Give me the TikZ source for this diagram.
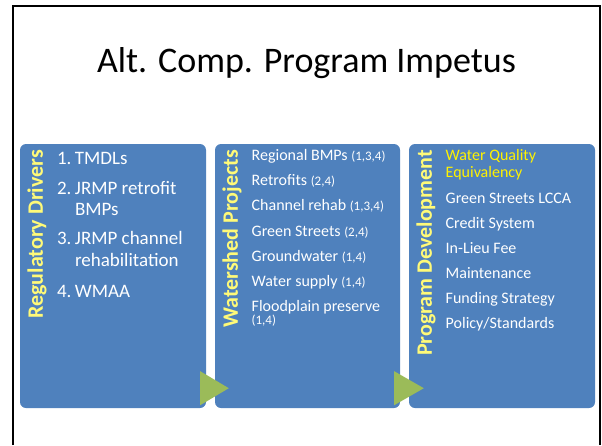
\documentclass[tikz,border=0pt]{standalone}
\usepackage{fontspec}
\setmainfont{Carlito}
\usepackage{tikz}
\usetikzlibrary{calc}

\definecolor{panelblue}{RGB}{79,129,189}
\definecolor{arrowgreen}{RGB}{155,187,89}
\definecolor{headyellow}{RGB}{255,250,120}

\tikzset{
  panel/.style={fill=panelblue, rounded corners=6pt, minimum width=186pt, minimum height=264pt, inner sep=0pt},
  panelhead/.style={rotate=90, anchor=base east, inner sep=0pt, text=headyellow, font=\fontsize{22}{26}\selectfont\bfseries},
  item/.style={anchor=base west, inner sep=0pt, text=white, font=\fontsize{16}{19}\selectfont},
  bigitem/.style={item, font=\fontsize{19}{22}\selectfont},
}
\newcommand{\refnums}[1]{{\fontsize{13}{15}\selectfont #1}}

\begin{document}
\begin{tikzpicture}[x=1pt, y=-1pt]
    \useasboundingbox (0,0) rectangle (602,445);
    % slide frame
    \draw[line width=2pt] (13,445) -- (13,6) -- (600,6) -- (600,445);
    \node (title) [anchor=base, font=\fontsize{36}{42}\selectfont] at (306.5,72) {Alt. Comp. Program Impetus};

    \node (drivers) [panel] at (113,276) {};
    \node (projects) [panel, minimum width=185pt] at (307.5,276) {};
    \node (progdev) [panel] at (502,276) {};

    \fill[arrowgreen] ($(drivers.south east)+(-6,-37)$) -- ($(drivers.south east)+(-6,-3)$) -- ($(projects.south west)+(14,-20)$) -- cycle;
    \fill[arrowgreen] ($(projects.south east)+(-6,-37)$) -- ($(projects.south east)+(-6,-3)$) -- ($(progdev.south west)+(15,-20)$) -- cycle;

    \node (drivershead) [panelhead] at ($(drivers.north west)+(23,6)$) {Regulatory Drivers};
    \node (projectshead) [panelhead] at ($(projects.north west)+(23,6)$) {Watershed Projects};
    \node (progdevhead) [panelhead] at ($(progdev.north west)+(23,6)$) {Program Development};

    \foreach \num/\txt/\dy [count=\i] in {1./TMDLs/21, 2./JRMP retrofit/51, /BMPs/72, 3./JRMP channel/101, /rehabilitation/123, 4./WMAA/154}
      \node (drv\i) [bigitem] at ($(drivers.north west)+(37,\dy)$) {\makebox[18pt][l]{\num}\txt};

    \foreach \txt [count=\i] in {{Regional BMPs \refnums{(1,3,4)}}, {Retrofits \refnums{(2,4)}}, {Channel rehab \refnums{(1,3,4)}}, {Green Streets \refnums{(2,4)}}, {Groundwater \refnums{(1,4)}}, {Water supply \refnums{(1,4)}}, {Floodplain preserve}}
      \node (prj\i) [item] at ($(projects.north west)+(36.7,{16.7+25.2*(\i-1)})$) {\txt};
    \node (prj8) [item] at ($(projects.north west)+(36.7,181)$) {\refnums{(1,4)}};

    \node (wq1) [item, text=yellow] at ($(progdev.north west)+(36.7,16.7)$) {Water Quality};
    \node (wq2) [item, text=yellow] at ($(progdev.north west)+(36.7,34)$) {Equivalency};
    \foreach \txt [count=\i] in {Green Streets LCCA, Credit System, In-Lieu Fee, Maintenance, Funding Strategy, Policy/Standards}
      \node (dev\i) [item] at ($(progdev.north west)+(36.7,{60+25*(\i-1)})$) {\txt};
  \end{tikzpicture}
\end{document}
